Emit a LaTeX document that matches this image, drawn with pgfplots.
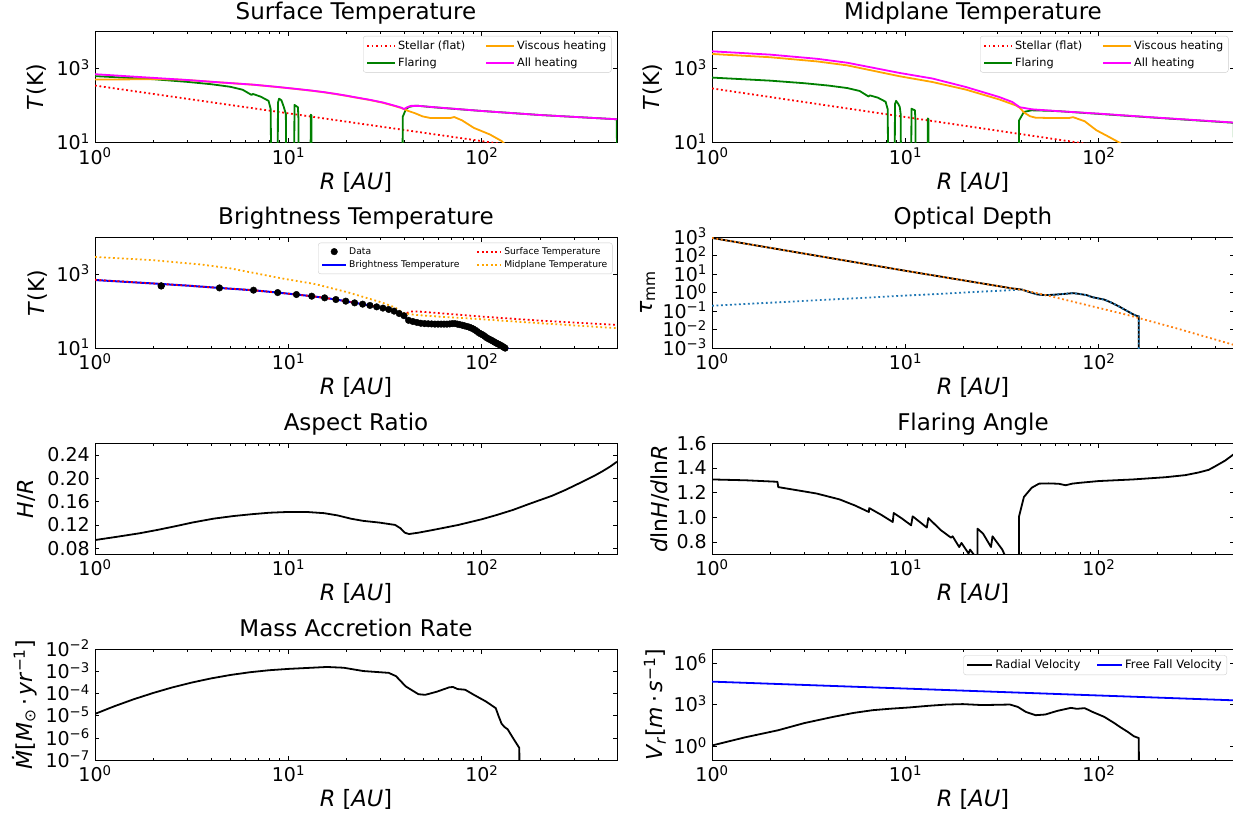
\documentclass[border=0pt]{standalone}
\usepackage{fontspec}
\setmainfont{DejaVu Sans}
\usepackage{pgfplots}
\pgfplotsset{compat=1.18}

\newcommand{\pw}[1]{10\textsuperscript{#1}}
\newcommand{\fs}[1]{\fontsize{#1}{#1}\selectfont}

\definecolor{mplorange}{RGB}{255,165,0}
\definecolor{mplgreen}{RGB}{0,128,0}
\definecolor{mplmagenta}{RGB}{255,0,255}
\definecolor{mplred}{RGB}{255,0,0}
\definecolor{mplblue}{RGB}{0,0,255}
\definecolor{tabblue}{RGB}{31,119,180}
\definecolor{taborange}{RGB}{255,127,14}
\definecolor{legframe}{RGB}{204,204,204}

\tikzset{
    ln/.style={line width=1.8pt, line join=round},
    dt/.style={line width=1.8pt, dash pattern=on 1.8pt off 2.7pt},
}

\pgfplotsset{
    every axis/.append style={
            scale only axis, width=522pt, height=111pt,
            xmin=1, xmax=500,
            xtick={1,10,100}, xticklabels={\pw{0},\pw{1},\pw{2}},
            minor xtick={2,3,4,5,6,7,8,9,20,30,40,50,60,70,80,90,200,300,400},
            yminorticks=false,
            tick align=inside,
            major tick length=4.5pt, minor tick length=2.5pt,
            tick style={black, line width=0.9pt},
            axis line style={line width=1pt},
            tick label style={font=\fs{19}, inner sep=0pt},
            xticklabel style={anchor=base, yshift=-21.4pt},
            yticklabel style={anchor=base east, xshift=-5pt, yshift=-6.9pt},
            title style={at={(0.5,1)}, anchor=base, yshift=6.6pt, font=\fs{23}},
            xlabel={\textit{R} [\textit{AU}]},
            xlabel style={at={(0.5,0)}, anchor=base, yshift=-46.5pt, font=\fs{22.5}},
            ylabel style={anchor=base, rotate=0, font=\fs{22}},
            legend cell align=left,
            legend style={draw=legframe, rounded corners=2.5pt, fill=white,
                    at={(1,1)}, anchor=north east, inner xsep=3pt, inner ysep=2.5pt,
                    row sep=3pt},
        },
}

\begin{document}
\begin{tikzpicture}
    \useasboundingbox (0,0) rectangle (1233pt,817pt);

    % ---------------- Surface Temperature ----------------
    \begin{axis}[at={(95pt,674.3pt)}, anchor=south west,
            xmode=log, ymode=log, ymin=10, ymax=1e4, ytick={10,1000}, yticklabels={\pw{1},\pw{3}},
            title={Surface Temperature}, ylabel={\textit{T}(K)},
            ylabel style={at={(axis description cs:-0.0977,0.5)}},
            legend columns=2, transpose legend,
            legend image code/.code={\draw[#1] (0pt,0pt) -- (28pt,0pt);},
            legend style={font=\fs{11.3}, xshift=-5.5pt, yshift=-4.3pt,
                    /tikz/every even column/.append style={column sep=18pt}}]
        \addplot[mplred, dt] coordinates {(1,350) (500,3.3)};
        \addlegendentry{Stellar (flat)}
        \addplot[mplgreen, ln] coordinates {
                (1,630) (2,520) (3,440) (4,380) (5,325) (5.8,270) (6.45,195) (6.55,208)
                (7.2,175) (7.9,135) (8.1,80) (8.15,1)
                (8.8,1) (8.83,120) (8.95,155) (9.2,140) (9.45,95) (9.7,60) (9.76,1)
                (10.7,1) (10.75,105) (11.2,91) (11.28,40) (11.3,1)
                (13.0,1) (13.05,57) (13.15,55) (13.2,1)
                (38.9,1) (39.0,50) (40.5,80) (42,93) (45,99) (47,99) (57,90) (100,72)
                (200,56) (499,43) (500,1)};
        \addlegendentry{Flaring}
        \addplot[mplorange, ln] coordinates {
                (1,510) (1.5,515) (2,520) (2.6,512) (3,492) (4.4,426) (6.6,368) (8.8,319)
                (11,282) (13.2,254) (15.4,229) (17.6,206) (19.8,186) (22,168) (26.4,142)
                (30.8,120) (35.2,99) (38.5,86) (40,79) (42,71) (45,63) (49.4,51.4)
                (54.3,46.4) (68.7,46.4) (72,49.4) (79,40.2) (91,25.1) (110,16.7)
                (126.5,11.1) (135,8.1) (150,5)};
        \addlegendentry{Viscous heating}
        \addplot[mplmagenta, ln] coordinates {
                (1,710) (2,565) (3,495) (4.4,428) (6.6,370) (8.8,321) (11,284) (13.2,256)
                (15.4,231) (17.6,208) (19.8,188) (22,170) (26.4,144) (30.8,122) (35.2,101)
                (38.5,88) (39.5,81) (41,90) (43,99) (47,99) (57,91) (100,72) (200,56)
                (500,43)};
        \addlegendentry{All heating}
    \end{axis}

    % ---------------- Midplane Temperature ----------------
    \begin{axis}[at={(712pt,674.3pt)}, anchor=south west,
            xmode=log, ymode=log, ymin=10, ymax=1e4, ytick={10,1000}, yticklabels={\pw{1},\pw{3}},
            title={Midplane Temperature}, ylabel={\textit{T}(K)},
            ylabel style={at={(axis description cs:-0.1015,0.5)}},
            legend columns=2, transpose legend,
            legend image code/.code={\draw[#1] (0pt,0pt) -- (28pt,0pt);},
            legend style={font=\fs{11.3}, xshift=-5.5pt, yshift=-4.3pt,
                    /tikz/every even column/.append style={column sep=18pt}}]
        \addplot[mplred, dt] coordinates {(1,293) (500,2.4)};
        \addlegendentry{Stellar (flat)}
        \addplot[mplgreen, ln] coordinates {
                (1,575) (2,475) (3,405) (4,350) (5,300) (5.8,250) (6.45,177) (6.55,190)
                (7.2,165) (7.9,128) (8.1,80) (8.15,1)
                (8.8,1) (8.83,110) (8.95,135) (9.2,110) (9.35,92) (9.45,60) (9.5,1)
                (10.7,1) (10.75,83) (11.2,75) (11.28,35) (11.3,1)
                (13.0,1) (13.05,45) (13.15,44) (13.2,1)
                (38.6,1) (38.7,40) (41,68) (45,75) (55,73) (62,71) (100,60) (200,47)
                (499,34.5) (500,1)};
        \addlegendentry{Flaring}
        \addplot[mplorange, ln] coordinates {
                (1,2500) (2,2040) (3.5,1570) (5,1230) (9.3,627) (13.8,436) (20.5,273)
                (30.5,148) (37.2,102) (39,88) (41,66) (44,52) (47,47.5) (55,46.5)
                (70,46.4) (73.6,49) (84.5,38) (97,21.8) (111,15) (128,10) (140,7)};
        \addlegendentry{Viscous heating}
        \addplot[mplmagenta, ln] coordinates {
                (1,2950) (2,2400) (3.5,1850) (5,1450) (9.3,770) (13.8,542) (20.5,321)
                (30.5,172) (35.7,126) (39,91) (45,80) (62,71) (100,61) (200,47.6) (500,35)};
        \addlegendentry{All heating}
    \end{axis}

    % ---------------- Brightness Temperature ----------------
    \begin{axis}[at={(95pt,468.7pt)}, anchor=south west,
            xmode=log, ymode=log, ymin=10, ymax=1e4, ytick={10,1000}, yticklabels={\pw{1},\pw{3}},
            title={Brightness Temperature}, ylabel={\textit{T}(K)},
            ylabel style={at={(axis description cs:-0.0967,0.5)}},
            legend columns=2, transpose legend,
            legend image code/.code={\draw[mark repeat=2,mark phase=2,#1] plot coordinates {(0pt,0pt) (12pt,0pt) (24pt,0pt)};},
            legend style={font=\fs{9.2}, xshift=-4.5pt, yshift=-5.4pt, row sep=1pt,
                    /tikz/every even column/.append style={column sep=15pt}}]
        \addplot[only marks, mark=*, mark size=3.3pt, black] coordinates {(2.2,485)};
        \addlegendentry{Data}
        \addplot[mplblue, line width=2pt] coordinates {
                (1,700) (2,565) (3,495) (4.4,428) (6.6,370) (8.8,321) (11,284) (13.2,256)
                (15.4,231) (17.6,208) (19.8,188) (22,170) (26.4,144) (30.8,122) (35.2,101)
                (37.4,88) (39.6,76) (40.6,64) (42,57) (44.5,52) (49,47.5) (55,45.5) (66,45)
                (70,46.5) (73,46.5) (80,42) (89,35) (98,25) (107,18.6) (120,13.6) (135,10)
                (145,8)};
        \addlegendentry{Brightness Temperature}
        \addplot[only marks, mark=*, mark size=3.3pt, black, forget plot] coordinates {
                (2.2,485) (4.4,428) (6.6,372) (8.8,321) (11,284) (13.2,256) (15.4,231)
                (17.6,208) (19.8,188) (22,169) (24.2,156) (26.4,144) (28.6,132) (30.8,122)
                (33,112) (35.2,101) (37.4,87) (39.6,76) (41.8,57) (44,53) (46.2,50)
                (48.4,47.5) (50.6,46.5) (52.8,46) (55,45.5) (57.2,45) (59.4,45) (61.6,45)
                (63.8,45) (66,45) (68.2,45.5) (70.4,46.5) (72.6,46.5) (74.8,45) (77,43.5)
                (79.2,42) (81.4,40.5) (83.6,39) (85.8,37.5) (88,35.5) (90.2,33.5) (92.4,31)
                (94.6,28.5) (96.8,26) (99,24.3) (101.2,23) (103.4,21.2) (105.6,19.5)
                (107.8,18.3) (110,17.3) (112.2,16.4) (114.4,15.5) (116.6,14.6) (118.8,13.8)
                (121,13.2) (123.2,12.6) (125.4,12) (127.6,11.3) (129.8,10.7) (132,10.1)
                (134.2,9.6)};
        \addplot[mplred, dt] coordinates {
                (1,710) (2,565) (3,495) (4.4,428) (6.6,370) (8.8,321) (11,284) (13.2,256)
                (15.4,231) (17.6,208) (19.8,188) (22,170) (26.4,144) (30.8,122) (35.2,101)
                (38.5,88) (39.5,81) (41,90) (43,99) (47,99) (57,91) (100,72) (200,56)
                (500,43)};
        \addlegendentry{Surface Temperature}
        \addplot[mplorange, dt] coordinates {
                (1,2950) (2,2400) (3.5,1850) (5,1450) (9.3,770) (13.8,542) (20.5,321)
                (30.5,172) (35.7,126) (39,91) (45,80) (62,71) (100,61) (200,47.6) (500,35)};
        \addlegendentry{Midplane Temperature}
    \end{axis}

    % ---------------- Optical Depth ----------------
    \begin{axis}[at={(712pt,468.7pt)}, anchor=south west,
            xmode=log, ymode=log, ymin=1e-3, ymax=1e3,
            ytick={0.001,0.01,0.1,1,10,100,1000},
            yticklabels={\pw{−3},\pw{−2},\pw{−1},\pw{0},\pw{1},\pw{2},\pw{3}},
            title={Optical Depth}, ylabel={\textit{τ}\textsubscript{mm}},
            ylabel style={at={(axis description cs:-0.1149,0.5)}}]
        \addplot[black, ln] coordinates {
                (1,920) (10,15.5) (36,1.7) (40,1.5) (43.8,1.09) (48.2,0.81) (52.9,0.75)
                (58,0.78) (67,0.88) (73.5,0.96) (78.7,0.88) (86.5,0.75) (92.6,0.58)
                (106.6,0.43) (117,0.285) (128.5,0.172) (141,0.1) (151.5,0.066)
                (158.8,0.054) (160.7,0.054) (160.8,1e-4)};
        \addplot[tabblue, dt] coordinates {
                (1,0.2) (40,1.5) (43.8,1.09) (48.2,0.81) (52.9,0.75)
                (58,0.78) (67,0.88) (73.5,0.96) (78.7,0.88) (86.5,0.75) (92.6,0.58)
                (106.6,0.43) (117,0.285) (128.5,0.172) (141,0.1) (151.5,0.066)
                (158.8,0.054) (160.7,0.054) (160.8,1e-4)};
        \addplot[taborange, dt] coordinates {
                (1,920) (10,15.5) (36,1.7) (40,1.45) (53,0.76) (88,0.21) (141,0.063)
                (250,0.0123) (500,0.00152)};
    \end{axis}

    % ---------------- Aspect Ratio ----------------
    \begin{axis}[at={(95pt,262.7pt)}, anchor=south west,
            xmode=log, ymin=0.07, ymax=0.26,
            ytick={0.08,0.12,0.16,0.20,0.24}, yticklabels={0.08,0.12,0.16,0.20,0.24},
            title={Aspect Ratio}, ylabel={\textit{H}/\textit{R}},
            ylabel style={at={(axis description cs:-0.1176,0.5)}}]
        \addplot[black, ln] coordinates {
                (1,0.0944) (1.3,0.1000) (1.7,0.1060) (2.1,0.1117) (2.6,0.1180)
                (3.2,0.1245) (4.1,0.1310) (5.2,0.1355) (6.5,0.1387) (8,0.1412)
                (10,0.1425) (12.5,0.1424) (15.3,0.1404) (18,0.1365) (21,0.131)
                (24.4,0.1272) (29.5,0.1243) (35.6,0.1203) (38,0.1145) (40,0.107)
                (42,0.1047) (47,0.107) (56,0.1117) (75,0.12) (100,0.130) (120,0.1375)
                (145,0.146) (175,0.156) (230,0.170) (270,0.180) (335,0.195) (380,0.204)
                (420,0.212) (460,0.220) (500,0.2285)};
    \end{axis}

    % ---------------- Flaring Angle ----------------
    \begin{axis}[at={(712pt,262.7pt)}, anchor=south west,
            xmode=log, ymin=0.7, ymax=1.6,
            ytick={0.8,1.0,1.2,1.4,1.6}, yticklabels={0.8,1.0,1.2,1.4,1.6},
            title={Flaring Angle},
            ylabel={\textit{d}ln\textit{H}/\textit{d}ln\textit{R}},
            ylabel style={at={(axis description cs:-0.0854,0.5)}}]
        \addplot[black, ln] coordinates {
                (1,1.307) (1.5,1.30) (2.18,1.288) (2.2,1.245) (3.47,1.193) (4.57,1.145)
                (5.5,1.095) (6.47,1.043) (6.5,1.075) (7.5,1.02) (8.6,0.962) (8.7,1.035)
                (9.7,0.985) (10.7,0.935) (10.9,1.008) (12.9,0.917) (13.14,0.994)
                (14.97,0.908) (15.27,0.895) (17.2,0.835) (17.54,0.846) (18.97,0.759)
                (19.5,0.792) (21.2,0.706) (21.6,0.738) (22.7,0.692) (23.55,0.6)
                (23.6,0.908) (25.2,0.868) (27.7,0.759) (28.2,0.846) (31.7,0.738)
                (32.5,0.70) (32.7,0.6) (38.6,0.6) (38.7,1.008) (41,1.165) (45,1.24)
                (49.1,1.273) (55,1.275) (62,1.272) (67.4,1.26) (72.9,1.273) (80,1.28)
                (100,1.294) (150,1.307) (221,1.325) (280,1.342) (327,1.363) (370,1.385)
                (398,1.412) (450,1.46) (497,1.51) (500,1.515)};
    \end{axis}

    % ---------------- Mass Accretion Rate ----------------
    \begin{axis}[at={(95pt,56.7pt)}, anchor=south west,
            xmode=log, ymode=log, ymin=1e-7, ymax=1e-2,
            ytick={1e-7,1e-6,1e-5,1e-4,1e-3,1e-2},
            yticklabels={\pw{−7},\pw{−6},\pw{−5},\pw{−4},\pw{−3},\pw{−2}},
            title={Mass Accretion Rate},
            ylabel={\textit{Ṁ}[\textit{M}\textsubscript{⊙}\,·\,\textit{yr}\textsuperscript{−1}]},
            ylabel style={at={(axis description cs:-0.1201,0.5)}}]
        \addplot[black, ln] coordinates {
                (1,1.23e-5) (1.26,2.73e-5) (1.585,5.62e-5) (2,1.08e-4) (2.51,1.92e-4)
                (3.16,3.17e-4) (3.98,4.88e-4) (5.01,6.97e-4) (6.31,9.25e-4) (7.94,1.14e-3)
                (10,1.31e-3) (12.6,1.45e-3) (15.8,1.6e-3) (19.3,1.48e-3) (24.4,1.05e-3)
                (33,8.7e-4) (36,6.17e-4) (40.4,2.14e-4) (47,9.5e-5) (51,8.9e-5)
                (58.5,1.23e-4) (68,1.95e-4) (71,2.0e-4) (75,1.62e-4) (82,1.51e-4)
                (91,8.9e-5) (105,4.47e-5) (118,2.24e-5) (122,1e-5) (126.5,4.47e-6)
                (131,3.16e-6) (136,2.5e-6) (145.6,9.5e-7) (150,6.3e-7) (156.3,3.6e-7)
                (156.5,1e-8)};
    \end{axis}

    % ---------------- Radial velocity ----------------
    \begin{axis}[at={(712pt,56.7pt)}, anchor=south west,
            xmode=log, ymode=log, ymin=0.1, ymax=1e7,
            ytick={1,1000,1000000}, yticklabels={\pw{0},\pw{3},\pw{6}},
            ylabel={\textit{V}\textsubscript{\textit{r}}[\textit{m}\,·\,\textit{s}\textsuperscript{−1}]},
            ylabel style={at={(axis description cs:-0.0944,0.5)}},
            legend columns=2,
            legend image code/.code={\draw[#1] (0pt,0pt) -- (25pt,0pt);},
            legend style={font=\fs{11.6}, xshift=-7pt, yshift=-6pt,
                    /tikz/every even column/.append style={column sep=14pt}}]
        \addplot[black, ln] coordinates {
                (1,1.17) (1.48,4.5) (2.19,14.5) (3.0,48) (4.23,135) (5.37,257) (6.75,407)
                (8.4,525) (10.5,646) (13.2,851) (16.4,1047) (19.8,1122) (25,955)
                (34.7,1047) (38.1,708) (41.9,309) (47.1,178) (52.9,200) (60.9,363)
                (71.7,603) (76.9,513) (84.5,575) (92.7,309) (106.7,135) (120,49)
                (128.8,25) (141.4,11) (151.8,5.4) (161,4.0) (161.1,0.01)};
        \addlegendentry{Radial Velocity}
        \addplot[mplblue, ln] coordinates {(1,46800) (500,2100)};
        \addlegendentry{Free Fall Velocity}
    \end{axis}
\end{tikzpicture}
\end{document}
